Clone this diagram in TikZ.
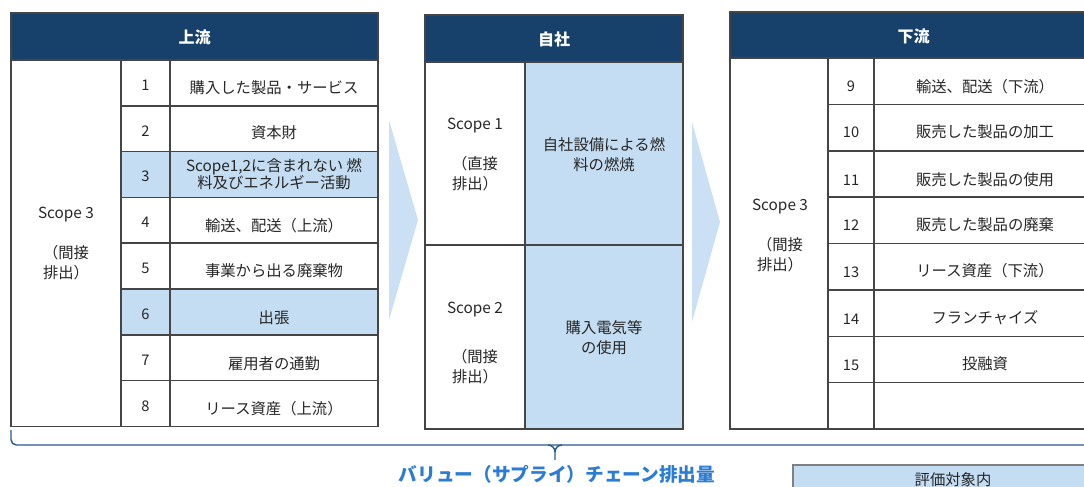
\documentclass[tikz,border=0pt]{standalone}
\usepackage{fontspec}
\setmainfont{Noto Sans CJK JP}
\definecolor{hdrnavy}{HTML}{17406B}
\definecolor{cellblue}{HTML}{C5DDF3}
\definecolor{arrowblue}{HTML}{CBE0F4}
\definecolor{gridgray}{HTML}{454545}
\definecolor{labelblue}{HTML}{2B7CD3}
\definecolor{bracenavy}{HTML}{2A5A8A}
\begin{document}
\begin{tikzpicture}[x=0.75pt,y=-0.75pt,
    grid/.style={draw=gridgray,line width=1.1pt},
    hdr/.style={text=white,font=\fontsize{12}{14}\selectfont\bfseries},
    num/.style={font=\fontsize{11}{13}\selectfont,text=black!85},
    item/.style={font=\fontsize{11.5}{12.8}\selectfont,text=black!85,align=center},
    scopetxt/.style={font=\fontsize{11.5}{15}\selectfont,text=black!85,align=center},
    bracestyle/.style={draw=bracenavy,line width=1.1pt}]
  \useasboundingbox (0,0) rectangle (1084,486);
  \clip (0,0) rectangle (1084,486);

  % upstream table
  \fill[hdrnavy] (11,13) rectangle (378,60);
  \fill[cellblue] (121,151.5) rectangle (378,197.3);
  \fill[cellblue] (121,289) rectangle (378,334.8);
  \draw[grid] (11,13) rectangle (378,426.6);
  \draw[grid] (11,60) -- (378,60);
  \draw[grid] (121,60) -- (121,426.6);
  \draw[grid] (170,60) -- (170,426.6);
  \draw[grid] (121,105.8) -- (378,105.8);
  \draw[grid] (121,151.5) -- (378,151.5);
  \draw[grid] (121,197.3) -- (378,197.3);
  \draw[grid] (121,243.1) -- (378,243.1);
  \draw[grid] (121,289) -- (378,289);
  \draw[grid] (121,334.8) -- (378,334.8);
  \draw[grid] (121,380.6) -- (378,380.6);
  \node[hdr] (upHead) at (194.5,37) {上流};
  \node[scopetxt] (upScope) at (66,244) {Scope 3\\[15pt]（間接\\排出）};
  \node[num] (u1) at (145.5,85) {1};
  \node[item] (u1t) at (274,88) {購入した製品・サービス};
  \node[num] (u2) at (145.5,131) {2};
  \node[item] (u2t) at (274,133) {資本財};
  \node[num] (u3) at (145.5,176) {3};
  \node[item] (u3t) at (274,174.5) {Scope1,2に含まれない 燃\\料及びエネルギー活動};
  \node[num] (u4) at (145.5,222.5) {4};
  \node[item] (u4t) at (274,226) {輸送、配送（上流）};
  \node[num] (u5) at (145.5,268) {5};
  \node[item] (u5t) at (274,271) {事業から出る廃棄物};
  \node[num] (u6) at (145.5,314) {6};
  \node[item] (u6t) at (274,318) {出張};
  \node[num] (u7) at (145.5,360) {7};
  \node[item] (u7t) at (274,364) {雇用者の通勤};
  \node[num] (u8) at (145.5,406) {8};
  \node[item] (u8t) at (274,409) {リース資産（上流）};

  % own company
  \fill[hdrnavy] (425,15) rectangle (683,62);
  \fill[cellblue] (525,62) rectangle (683,429);
  \draw[grid] (425,15) rectangle (683,429);
  \draw[grid] (425,62) -- (683,62);
  \draw[grid] (525,62) -- (525,429);
  \draw[grid] (425,245) -- (683,245);
  \node[hdr] (ownHead) at (554,39) {自社};
  \node[scopetxt] (s1) at (475,155) {Scope 1\\[15pt]（直接\\排出）};
  \node[scopetxt] (s1t) at (604,155) {自社設備による燃\\料の燃焼};
  \node[scopetxt] (s2) at (475,343) {Scope 2\\[22pt]（間接\\排出）};
  \node[scopetxt] (s2t) at (604,338) {購入電気等\\の使用};

  % chevrons
  \fill[arrowblue] (389,120) -- (418,220) -- (389,320) -- cycle;
  \fill[arrowblue] (692,122) -- (720,222) -- (692,322) -- cycle;

  % downstream table
  \fill[hdrnavy] (730,12) rectangle (1097,58);
  \draw[grid] (730,12) rectangle (1097,429);
  \draw[grid] (730,58) -- (1097,58);
  \draw[grid] (828,58) -- (828,429);
  \draw[grid] (874,58) -- (874,429);
  \draw[grid] (828,104.4) -- (1097,104.4);
  \draw[grid] (828,150.8) -- (1097,150.8);
  \draw[grid] (828,197.1) -- (1097,197.1);
  \draw[grid] (828,243.5) -- (1097,243.5);
  \draw[grid] (828,289.9) -- (1097,289.9);
  \draw[grid] (828,336.3) -- (1097,336.3);
  \draw[grid] (828,382.6) -- (1097,382.6);
  \node[hdr] (downHead) at (913.5,36) {下流};
  \node[scopetxt] (downScope) at (780,236) {Scope 3\\[15pt]（間接\\排出）};
  \node[num] (d9) at (851,86) {9};
  \node[item] (d9t) at (985,87) {輸送、配送（下流）};
  \node[num] (d10) at (851,132) {10};
  \node[item] (d10t) at (985,132) {販売した製品の加工};
  \node[num] (d11) at (851,180) {11};
  \node[item] (d11t) at (985,180) {販売した製品の使用};
  \node[num] (d12) at (851,225) {12};
  \node[item] (d12t) at (985,225) {販売した製品の廃棄};
  \node[num] (d13) at (851,272) {13};
  \node[item] (d13t) at (985,271) {リース資産（下流）};
  \node[num] (d14) at (851,319) {14};
  \node[item] (d14t) at (985,318) {フランチャイズ};
  \node[num] (d15) at (851,365) {15};
  \node[item] (d15t) at (985,364) {投融資};

  % brace and total label
  \draw[bracestyle,rounded corners=4] (11,430) |- (1100,445);
  \draw[bracestyle] (548,445) to[out=0,in=90] (555,452) -- (555,460);
  \draw[bracestyle] (562,445) to[out=180,in=90] (555,452);
  \node[font=\fontsize{14}{16}\selectfont\bfseries,text=labelblue] (total) at (557,474) {バリュー（サプライ）チェーン排出量};

  % legend
  \draw[draw=gray,fill=cellblue,line width=0.8pt] (793,465) rectangle (1120,520);
  \node[item] (legIn) at (953,480) {評価対象内};
\end{tikzpicture}
\end{document}
